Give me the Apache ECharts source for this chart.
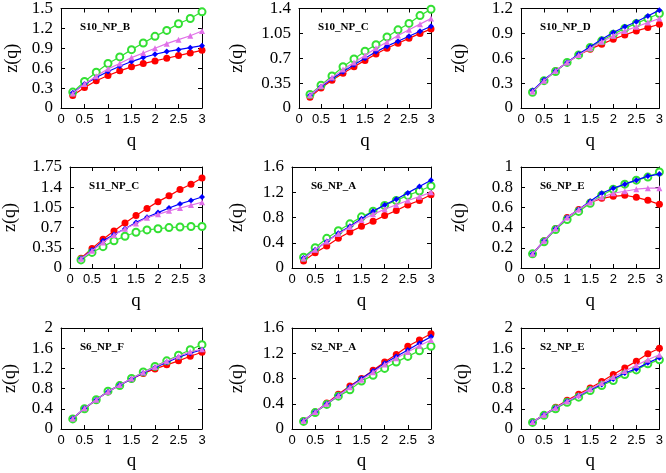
<!DOCTYPE html>
<html><head><meta charset="utf-8">
<script src="https://cdn.jsdelivr.net/npm/echarts@6/dist/echarts.min.js"></script>
<style>html,body{margin:0;padding:0;background:#fff}#c{width:666px;height:473px}</style>
</head><body><div id="c"></div>
<script>
const q = [0.25,0.5,0.75,1.0,1.25,1.5,1.75,2.0,2.25,2.5,2.75,3.0];
const xTicks = [0,0.5,1,1.5,2,2.5,3];

const titles = ['S10_NP_B','S10_NP_C','S10_NP_D','S11_NP_C','S6_NP_A','S6_NP_E','S6_NP_F','S2_NP_A','S2_NP_E'];
const yMax = [1.5,1.4,1.2,1.75,1.6,1.0,2.0,1.6,2.0];
const yStep = [0.3,0.35,0.3,0.35,0.4,0.2,0.4,0.4,0.4];

// S10_NP_B
const B_red = [0.19,0.31,0.41,0.49,0.56,0.62,0.67,0.71,0.75,0.79,0.83,0.87];
const B_green = [0.24,0.40,0.54,0.67,0.77,0.88,0.98,1.08,1.17,1.27,1.35,1.45];
const B_blue = [0.23,0.36,0.46,0.55,0.63,0.70,0.76,0.81,0.85,0.88,0.91,0.94];
const B_mag = [0.22,0.36,0.48,0.59,0.67,0.76,0.83,0.90,0.97,1.03,1.09,1.16];
// S10_NP_C
const C_red = [0.15,0.28,0.39,0.49,0.58,0.67,0.76,0.84,0.91,0.98,1.05,1.11];
const C_green = [0.19,0.32,0.45,0.58,0.69,0.80,0.89,1.00,1.10,1.19,1.30,1.39];
const C_blue = [0.18,0.30,0.41,0.51,0.61,0.70,0.79,0.87,0.94,1.01,1.08,1.15];
const C_mag = [0.18,0.31,0.43,0.54,0.64,0.74,0.84,0.93,1.02,1.10,1.18,1.26];
// S10_NP_D
const D_red = [0.20,0.33,0.45,0.55,0.64,0.71,0.77,0.83,0.88,0.93,0.97,1.01];
const D_green = [0.19,0.33,0.44,0.55,0.64,0.73,0.81,0.89,0.96,1.02,1.08,1.14];
const D_blue = [0.21,0.34,0.45,0.55,0.65,0.74,0.83,0.91,0.98,1.04,1.11,1.18];
const D_mag = [0.20,0.33,0.45,0.55,0.64,0.72,0.80,0.87,0.93,0.98,1.03,1.08];
// S11_NP_C
const E_red = [0.17,0.34,0.50,0.64,0.78,0.91,1.03,1.15,1.25,1.36,1.45,1.56];
const E_green = [0.14,0.27,0.37,0.47,0.55,0.62,0.66,0.68,0.70,0.71,0.72,0.72];
const E_blue = [0.16,0.31,0.47,0.58,0.68,0.79,0.88,0.96,1.04,1.11,1.17,1.23];
const E_mag = [0.16,0.30,0.44,0.57,0.68,0.77,0.87,0.93,0.99,1.04,1.09,1.14];
// S6_NP_A
const F_red = [0.11,0.24,0.35,0.47,0.57,0.66,0.74,0.83,0.91,1.00,1.07,1.16];
const F_green = [0.17,0.32,0.47,0.59,0.70,0.81,0.90,0.99,1.07,1.15,1.22,1.30];
const F_blue = [0.16,0.29,0.42,0.55,0.66,0.78,0.90,1.00,1.09,1.19,1.29,1.39];
const F_mag = [0.15,0.29,0.42,0.54,0.65,0.76,0.85,0.93,1.00,1.07,1.13,1.20];
// S6_NP_E
const G_red = [0.14,0.27,0.39,0.50,0.58,0.65,0.69,0.71,0.72,0.70,0.67,0.63];
const G_green = [0.14,0.26,0.38,0.48,0.56,0.64,0.72,0.78,0.83,0.87,0.90,0.95];
const G_blue = [0.14,0.27,0.39,0.50,0.58,0.66,0.74,0.79,0.83,0.87,0.91,0.93];
const G_mag = [0.14,0.27,0.39,0.50,0.58,0.65,0.70,0.74,0.76,0.78,0.79,0.79];
// S6_NP_F
const H_red = [0.21,0.40,0.58,0.74,0.87,0.99,1.10,1.19,1.27,1.35,1.44,1.52];
const H_green = [0.20,0.40,0.58,0.75,0.86,1.00,1.13,1.24,1.35,1.46,1.57,1.67];
const H_blue = [0.21,0.41,0.58,0.74,0.87,0.99,1.11,1.22,1.32,1.42,1.50,1.57];
const H_mag = [0.21,0.41,0.58,0.74,0.87,1.00,1.12,1.23,1.34,1.44,1.53,1.58];
// S2_NP_A
const I_red = [0.13,0.27,0.41,0.55,0.68,0.80,0.93,1.06,1.18,1.31,1.41,1.51];
const I_green = [0.12,0.26,0.39,0.52,0.62,0.76,0.85,0.96,1.06,1.15,1.24,1.31];
const I_blue = [0.13,0.27,0.40,0.53,0.67,0.80,0.92,1.04,1.15,1.25,1.36,1.46];
const I_mag = [0.13,0.27,0.40,0.53,0.66,0.78,0.90,1.02,1.12,1.22,1.32,1.41];
// S2_NP_E
const J_red = [0.14,0.28,0.43,0.57,0.69,0.81,0.94,1.08,1.21,1.34,1.49,1.60];
const J_green = [0.13,0.27,0.40,0.53,0.63,0.76,0.86,0.96,1.08,1.17,1.29,1.37];
const J_blue = [0.14,0.28,0.42,0.55,0.66,0.78,0.88,0.99,1.11,1.19,1.31,1.41];
const J_mag = [0.14,0.28,0.42,0.55,0.67,0.79,0.91,1.03,1.15,1.26,1.37,1.47];

const redSets = [B_red,C_red,D_red,E_red,F_red,G_red,H_red,I_red,J_red];
const greenSets = [B_green,C_green,D_green,E_green,F_green,G_green,H_green,I_green,J_green];
const blueSets = [B_blue,C_blue,D_blue,E_blue,F_blue,G_blue,H_blue,I_blue,J_blue];
const magSets = [B_mag,C_mag,D_mag,E_mag,F_mag,G_mag,H_mag,I_mag,J_mag];

// layout: [left, top, width, height, yNameGap, xNameGap]
const layout = [
  [61,8,141,100,40,24],[299,8,132,100,53,24],[521,8,143,100,53,24],
  [70,167,132,101,51,24],[292,167,139,101,46,24],[521,167,143,101,53,24],
  [61,328,141,101,42,23],[292,328,139,101,46,23],[521,328,143,101,50,23]
];

const serif = 'Liberation Serif';
const sans = 'Liberation Sans';
const fmt = v => String(Math.round(v*100)/100);

const grid=[], xAxis=[], yAxis=[], series=[], title=[];
const tick = {show:true, inside:true, length:4, lineStyle:{color:'#000',width:1}};
const line = {show:true, onZero:false, lineStyle:{color:'#000',width:1}};

layout.forEach((L,i)=>{
  grid.push({left:L[0], top:L[1], width:L[2], height:L[3], containLabel:false});
  const xb = {type:'value', gridIndex:i, min:0, max:3, interval:0.5, position:'bottom',
    axisLine:line, axisTick:tick, splitLine:{show:false},
    axisLabel:{fontFamily:sans, fontSize:13, color:'#000', margin:5, formatter:fmt},
    name:'q', nameLocation:'middle', nameGap:L[5],
    nameTextStyle:{fontFamily:serif, fontSize:19, color:'#000'}};
  const xt = {type:'value', gridIndex:i, min:0, max:3, interval:0.5, position:'top',
    axisLine:line, axisTick:tick, splitLine:{show:false}, axisLabel:{show:false}};
  const yl = {type:'value', gridIndex:i, min:0, max:yMax[i], interval:yStep[i], position:'left',
    axisLine:line, axisTick:tick, splitLine:{show:false},
    axisLabel:{fontFamily:serif, fontSize:17, color:'#000', margin:8, formatter:fmt},
    name:'z(q)', nameLocation:'middle', nameGap:L[4], nameRotate:90,
    nameTextStyle:{fontFamily:serif, fontSize:18, color:'#000'}};
  const yr = {type:'value', gridIndex:i, min:0, max:yMax[i], interval:yStep[i], position:'right',
    axisLine:line, axisTick:tick, splitLine:{show:false}, axisLabel:{show:false}};
  xAxis.push(xb, xt);
  yAxis.push(yl, yr);
  const xi = 2*i, yi = 2*i;
  const mk = arr => q.map((x,k)=>[x,arr[k]]);
  series.push({type:'line', xAxisIndex:xi, yAxisIndex:yi, data:mk(redSets[i]),
    symbol:'circle', symbolSize:7, color:'#ff0000', lineStyle:{width:1.2,color:'#ff0000'},
    itemStyle:{color:'#ff0000'}, animation:false, z:2});
  series.push({type:'line', xAxisIndex:xi, yAxisIndex:yi, data:mk(greenSets[i]),
    symbol:'emptyCircle', symbolSize:7, color:'#33e033', lineStyle:{width:1.2,color:'#33e033'},
    itemStyle:{color:'#33e033', borderWidth:1}, animation:false, z:3});
  series.push({type:'line', xAxisIndex:xi, yAxisIndex:yi, data:mk(blueSets[i]),
    symbol:'diamond', symbolSize:6, color:'#0000ff', lineStyle:{width:1.2,color:'#0000ff'},
    itemStyle:{color:'#0000ff'}, animation:false, z:4});
  series.push({type:'line', xAxisIndex:xi, yAxisIndex:yi, data:mk(magSets[i]),
    symbol:'triangle', symbolSize:6, color:'#e070e8', lineStyle:{width:1.2,color:'#e070e8'},
    itemStyle:{color:'#e070e8'}, animation:false, z:5});
  title.push({text:titles[i], left:L[0]+14, top:L[1]+9,
    textStyle:{fontFamily:serif, fontWeight:'bold', fontSize:11, color:'#000'}});
});

const chart = echarts.init(document.getElementById('c'), null, {renderer:'canvas'});
chart.setOption({animation:false, backgroundColor:'#fff', title, grid, xAxis, yAxis, series});
</script>
</body></html>
